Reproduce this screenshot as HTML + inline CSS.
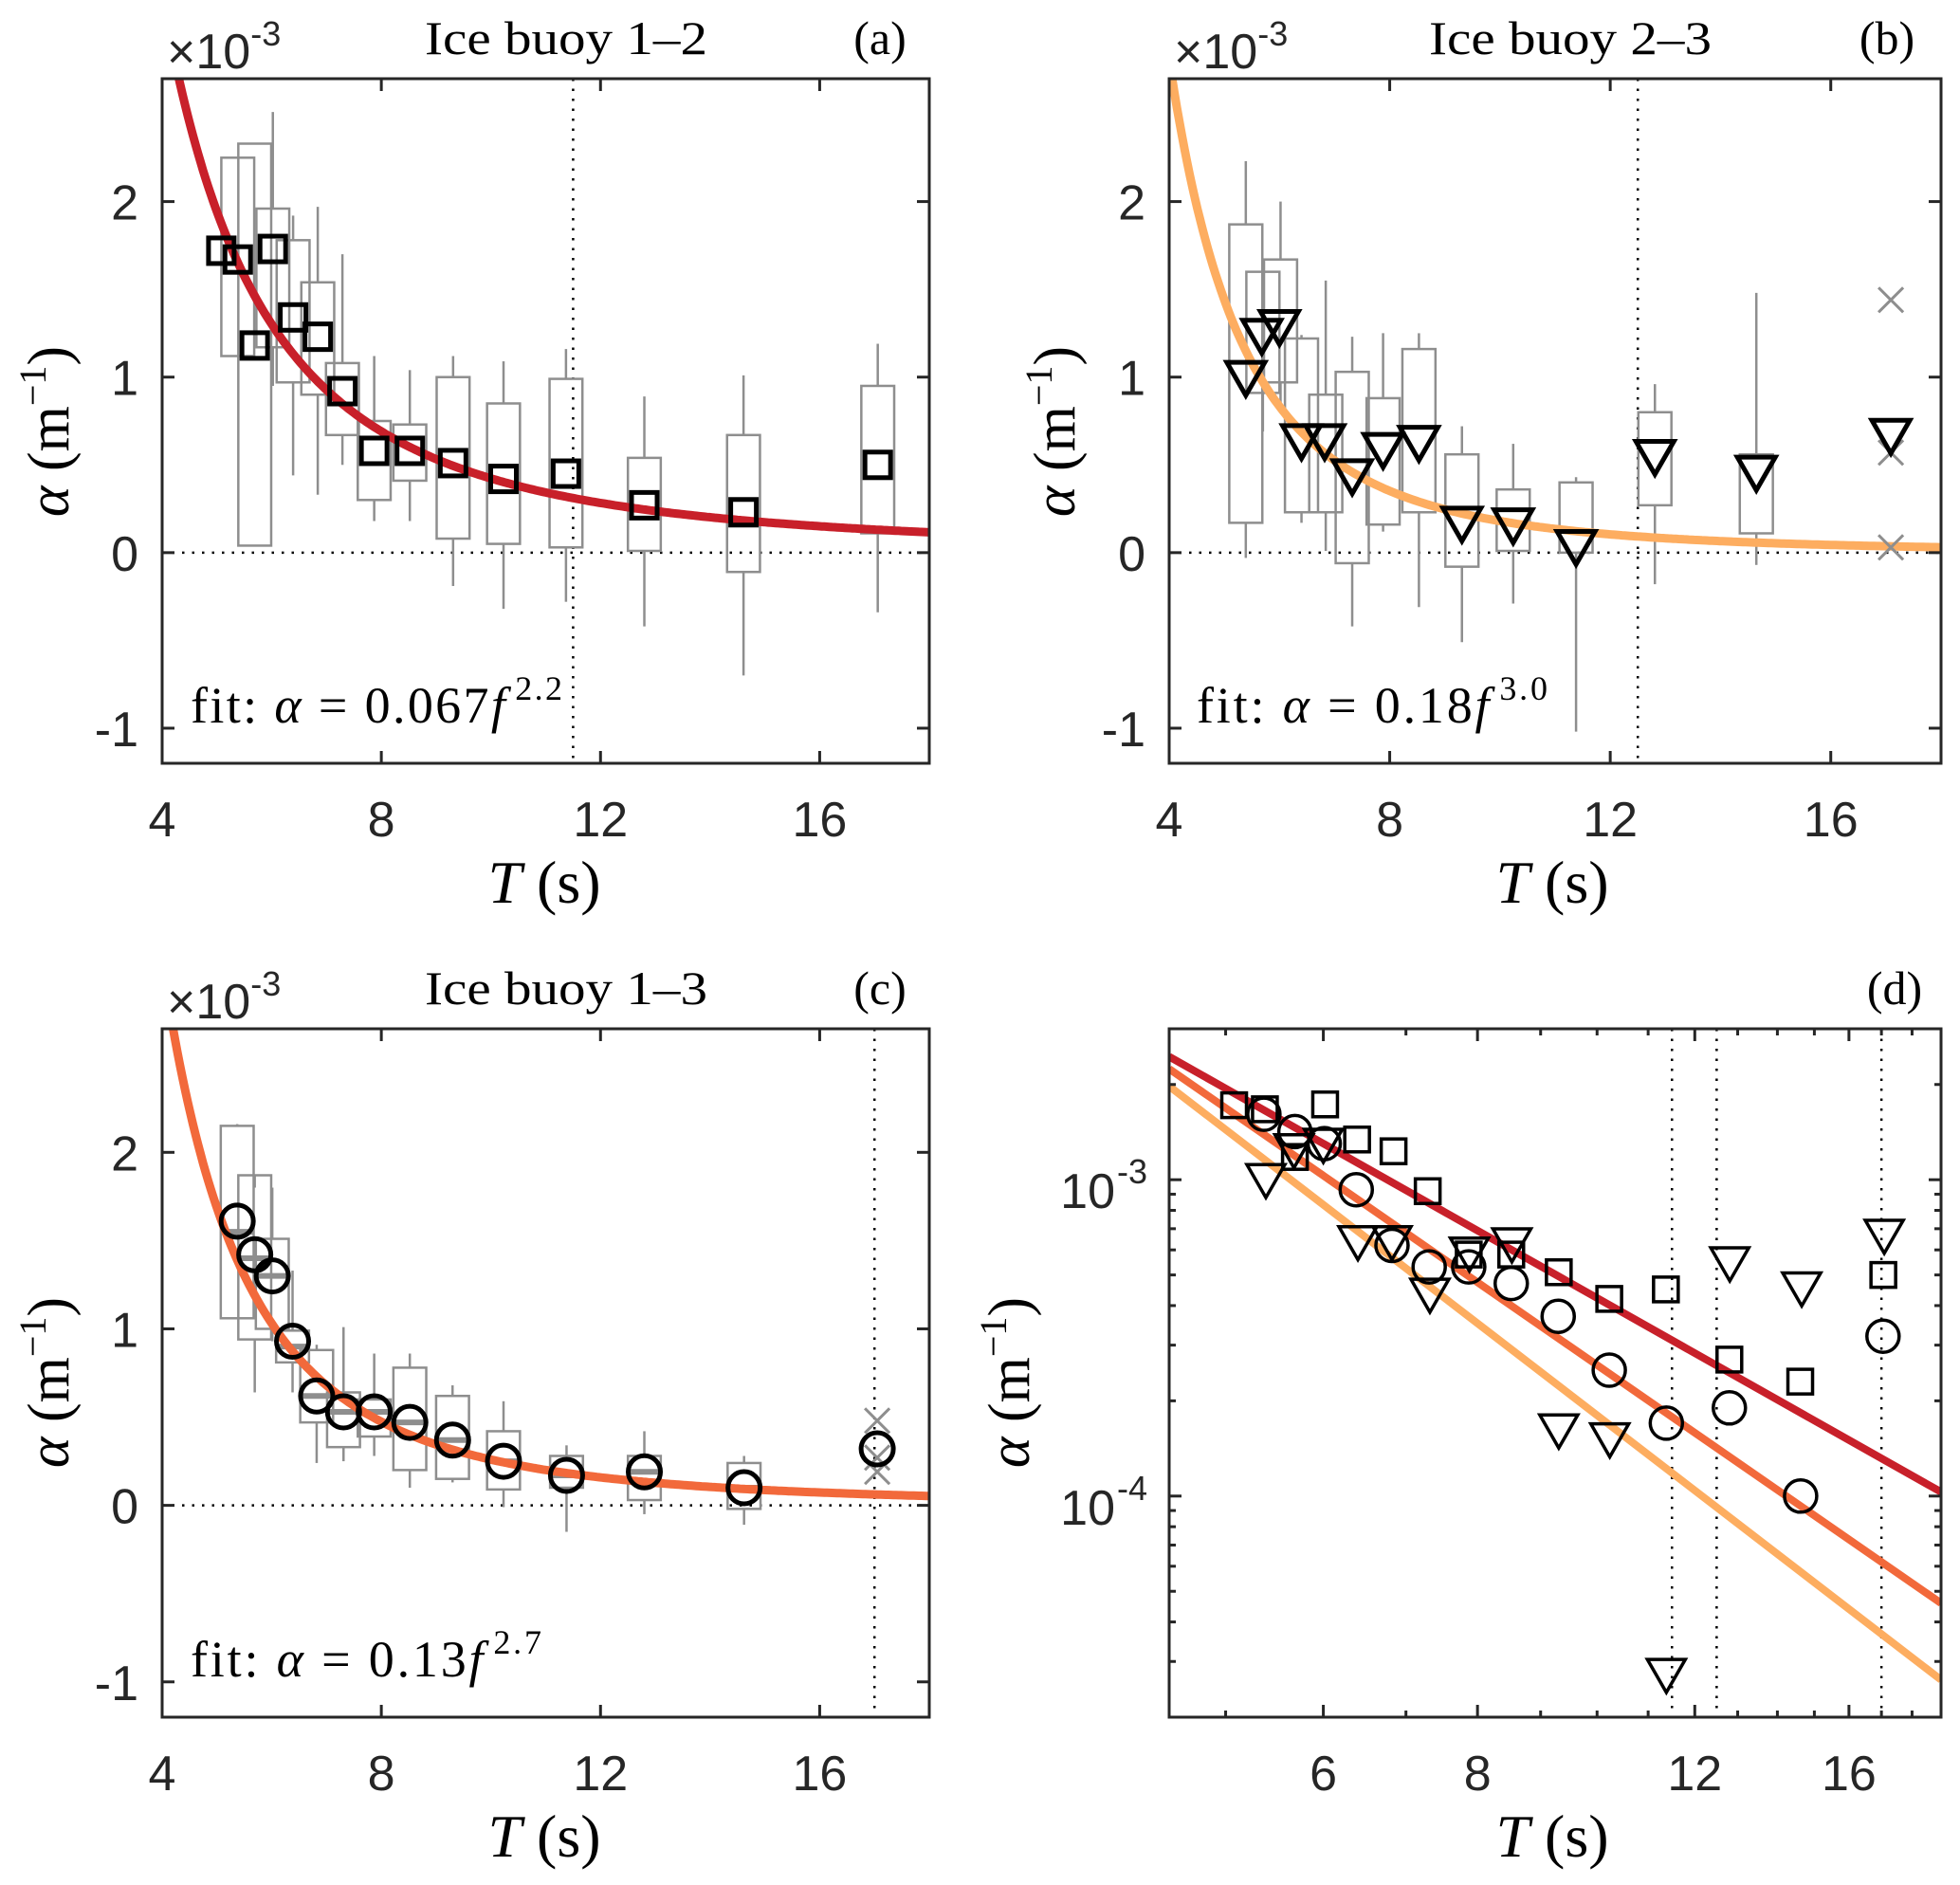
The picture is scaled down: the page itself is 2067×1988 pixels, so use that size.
<!DOCTYPE html>
<html><head><meta charset="utf-8"><style>
html,body{margin:0;padding:0;background:#fff;}
svg{display:block;}
.sans{font-family:"Liberation Sans",Arial,sans-serif;fill:#262626;}
.serif{font-family:"Liberation Serif","Times New Roman",serif;fill:#000;}
</style></head><body>
<svg id="fig" width="2067" height="1988" viewBox="0 0 2067 1988" xmlns="http://www.w3.org/2000/svg">
<defs>
<clipPath id="clipA"><rect x="171" y="83" width="809" height="722"/></clipPath>
<clipPath id="clipB"><rect x="1233" y="83" width="814" height="722"/></clipPath>
<clipPath id="clipC"><rect x="171" y="1085" width="809" height="726"/></clipPath>
<clipPath id="clipD"><rect x="1233" y="1085" width="814" height="726"/></clipPath>
</defs>
<g>
<text class="sans" x="176" y="72" font-size="52">×10<tspan dy="-24" font-size="36">-3</tspan></text>
<text class="serif" x="597" y="57" font-size="50" text-anchor="middle" textLength="298" lengthAdjust="spacingAndGlyphs">Ice buoy 1–2</text>
<text class="serif" x="928" y="57" font-size="50" text-anchor="middle">(a)</text>
<text class="serif" x="201" y="762" font-size="54" textLength="392" lengthAdjust="spacing">fit:  <tspan font-style="italic">α</tspan> = 0.067<tspan font-style="italic">f</tspan><tspan dx="8" dy="-24" font-size="36">2.2</tspan></text>
<text class="serif" x="574" y="952" font-size="64" text-anchor="middle"><tspan font-style="italic">T</tspan> (s)</text>
<text class="serif" transform="translate(72,455) rotate(-90)" font-size="62" text-anchor="middle"><tspan font-style="italic">α</tspan> (m<tspan dy="-24" font-size="40">−1</tspan><tspan dy="24">)</tspan></text>
</g>
<g>
<text class="sans" x="1238" y="72" font-size="52">×10<tspan dy="-24" font-size="36">-3</tspan></text>
<text class="serif" x="1656" y="57" font-size="50" text-anchor="middle" textLength="298" lengthAdjust="spacingAndGlyphs">Ice buoy 2–3</text>
<text class="serif" x="1990" y="57" font-size="50" text-anchor="middle">(b)</text>
<text class="serif" x="1262" y="762" font-size="54" textLength="370" lengthAdjust="spacing">fit:  <tspan font-style="italic">α</tspan> = 0.18<tspan font-style="italic">f</tspan><tspan dx="8" dy="-24" font-size="36">3.0</tspan></text>
<text class="serif" x="1637" y="952" font-size="64" text-anchor="middle"><tspan font-style="italic">T</tspan> (s)</text>
<text class="serif" transform="translate(1133,455) rotate(-90)" font-size="62" text-anchor="middle"><tspan font-style="italic">α</tspan> (m<tspan dy="-24" font-size="40">−1</tspan><tspan dy="24">)</tspan></text>
</g>
<g>
<text class="sans" x="176" y="1074" font-size="52">×10<tspan dy="-24" font-size="36">-3</tspan></text>
<text class="serif" x="597" y="1059" font-size="50" text-anchor="middle" textLength="298" lengthAdjust="spacingAndGlyphs">Ice buoy 1–3</text>
<text class="serif" x="928" y="1059" font-size="50" text-anchor="middle">(c)</text>
<text class="serif" x="201" y="1768" font-size="54" textLength="370" lengthAdjust="spacing">fit:  <tspan font-style="italic">α</tspan> = 0.13<tspan font-style="italic">f</tspan><tspan dx="8" dy="-24" font-size="36">2.7</tspan></text>
<text class="serif" x="574" y="1958" font-size="64" text-anchor="middle"><tspan font-style="italic">T</tspan> (s)</text>
<text class="serif" transform="translate(72,1458) rotate(-90)" font-size="62" text-anchor="middle"><tspan font-style="italic">α</tspan> (m<tspan dy="-24" font-size="40">−1</tspan><tspan dy="24">)</tspan></text>
</g>
<g>
<text class="serif" x="1998" y="1059" font-size="50" text-anchor="middle">(d)</text>
<text class="serif" x="1637" y="1958" font-size="64" text-anchor="middle"><tspan font-style="italic">T</tspan> (s)</text>
<text class="serif" transform="translate(1085,1458) rotate(-90)" font-size="62" text-anchor="middle"><tspan font-style="italic">α</tspan> (m<tspan dy="-24" font-size="40">−1</tspan><tspan dy="24">)</tspan></text>
</g>
</svg>
<script>
// ---------- data (alpha in units of 1e-3 m^-1) ----------
const fitA = [0.067, 0.18, 0.13];
const fitB = [2.2, 3.0, 2.7];
const cutoffT = [11.5, 12.5, 17.0];
const xTicks = [4, 8, 12, 16];
const yTicks = [-1, 0, 1, 2];
const dXTickLabels = [6, 8, 12, 16];

const aT    = [5.08,5.38,5.69,6.02,6.39,6.84,7.29,7.87,8.52,9.31,10.23,11.37,12.80,14.61,17.06];
const aMean = [1.72,1.67,1.18,1.73,1.34,1.23,0.92,0.58,0.58,0.51,0.42,0.45,0.27,0.23,0.50];
const aBoxT = [5.38,5.69,6.02,6.39,6.84,7.29,7.87,8.52,9.31,10.23,11.37,12.80,14.61,17.06];
const aQ1   = [1.12,0.04,1.17,0.97,0.90,0.67,0.30,0.41,0.08,0.05,0.03,0.01,-0.11,0.11];
const aQ3   = [2.25,2.33,1.96,1.78,1.54,1.08,0.75,0.73,1.00,0.85,0.99,0.54,0.67,0.95];
const aLo   = [1.12,0.04,0.95,0.44,0.33,0.50,0.18,0.18,-0.19,-0.32,-0.28,-0.42,-0.70,-0.34];
const aHi   = [2.25,2.33,2.51,1.92,1.97,1.70,1.12,1.04,1.12,1.09,1.16,0.89,1.01,1.19];

const bT    = [5.39,5.68,6.00,6.40,6.82,7.32,7.88,8.53,9.31,10.24,11.38,12.81,14.65,17.09];
const bMean = [0.99,1.23,1.28,0.63,0.63,0.43,0.58,0.62,0.16,0.15,0.027,0.54,0.45,0.66];
const bBoxT = [5.39,5.70,6.02,6.40,6.84,7.32,7.88,8.53,9.31,10.24,11.38,12.81,14.65];
const bQ1   = [0.17,0.91,0.97,0.23,0.23,-0.06,0.16,0.23,-0.08,0.01,0.00,0.27,0.11];
const bQ3   = [1.87,1.60,1.67,1.22,0.90,1.03,0.88,1.16,0.56,0.36,0.40,0.80,0.56];
const bLo   = [-0.03,0.69,0.81,0.17,0.01,-0.42,0.12,-0.31,-0.51,-0.29,-1.02,-0.18,-0.07];
const bHi   = [2.23,1.60,2.00,1.24,1.55,1.23,1.25,1.25,0.72,0.62,0.43,0.96,1.48];
const bOutT = [17.09,17.09,17.09];
const bOutV = [1.44,0.57,0.03];

const cT    = [5.37,5.69,6.01,6.38,6.82,7.31,7.87,8.52,9.30,10.23,11.38,12.80,14.62,17.05];
const cMean = [1.61,1.42,1.30,0.93,0.62,0.53,0.53,0.47,0.37,0.25,0.17,0.19,0.10,0.32];
const cBoxT = [5.37,5.69,6.01,6.38,6.82,7.31,7.87,8.52,9.30,10.23,11.38,12.80,14.62];
const cQ1   = [1.06,0.94,1.00,0.81,0.47,0.33,0.39,0.20,0.15,0.09,0.10,0.03,-0.02];
const cQ3   = [2.15,1.87,1.51,0.99,0.88,0.64,0.60,0.78,0.62,0.42,0.28,0.28,0.24];
const cLo   = [1.06,0.64,0.93,0.64,0.24,0.25,0.28,0.10,0.13,-0.01,-0.15,-0.05,-0.11];
const cHi   = [2.16,1.80,1.80,1.33,0.91,1.01,0.86,0.86,0.68,0.59,0.34,0.42,0.28];
const cMed  = [1.55,1.40,1.30,0.90,0.62,0.53,0.53,0.47,0.37,0.25,0.17,0.19,0.10];
const cOutT = [17.05,17.05,17.05];
const cOutV = [0.48,0.27,0.19];

// ---------- drawing ----------
const NS = 'http://www.w3.org/2000/svg';
const svg = document.getElementById('fig');
function mk(parent, tag, attrs, name) {
  const el = document.createElementNS(NS, tag);
  for (const k in attrs) el.setAttribute(k, attrs[k]);
  
  
  parent.appendChild(el);
  return el;
}
function linScale(d0, d1, r0, r1) { return v => r0 + (v - d0) / (d1 - d0) * (r1 - r0); }
function logScale(d0, d1, r0, r1) { return v => r0 + (Math.log10(v) - Math.log10(d0)) / (Math.log10(d1) - Math.log10(d0)) * (r1 - r0); }

const RED = '#c8202a', ORG = '#f2693b', LOR = '#fdad60', GRAY = '#8e8e8e', AX = '#262626';

function square(g, x, y, s, sw, name) {
  mk(g, 'rect', {x: x - s/2, y: y - s/2, width: s, height: s, fill: 'none', stroke: '#000', 'stroke-width': sw}, name);
}
function tri(g, x, y, w, sw, name) {
  const h = w * 0.87;
  mk(g, 'polygon', {points: `${x - w/2},${y - h/2} ${x + w/2},${y - h/2} ${x},${y + h/2}`, fill: 'none', stroke: '#000', 'stroke-width': sw}, name);
}
function circ(g, x, y, r, sw, name) {
  mk(g, 'circle', {cx: x, cy: y, r: r, fill: 'none', stroke: '#000', 'stroke-width': sw}, name);
}
function cross(g, x, y, s, name) {
  mk(g, 'path', {d: `M${x - s},${y - s}L${x + s},${y + s}M${x - s},${y + s}L${x + s},${y - s}`, stroke: GRAY, 'stroke-width': 3, fill: 'none'}, name);
}

function linearPanel(id, geo, clip, fitIdx, color, T, M, BT, Q1, Q3, LO, HI, MED, OT, OV, marker) {
  const g = mk(svg, 'g', {}, 'panel-' + id);
  const x = linScale(4, 18, geo.x0, geo.x1);
  const y = linScale(-1.2, 2.7, geo.y1, geo.y0);
  const pg = mk(g, 'g', {'clip-path': `url(#${clip})`}, 'panel-' + id + '-plot-area');
  mk(pg, 'line', {x1: geo.x0, x2: geo.x1, y1: y(0), y2: y(0), stroke: '#000', 'stroke-width': 2.5, 'stroke-dasharray': '2.5,8'}, 'zero-line');
  mk(pg, 'line', {x1: x(cutoffT[fitIdx]), x2: x(cutoffT[fitIdx]), y1: geo.y0, y2: geo.y1, stroke: '#000', 'stroke-width': 2.5, 'stroke-dasharray': '2.5,8'}, 'cutoff-line');
  const hw = 0.3;
  for (let i = 0; i < BT.length; i++) {
    const bg = mk(pg, 'g', {}, 'box-' + i);
    mk(bg, 'line', {x1: x(BT[i]), x2: x(BT[i]), y1: y(HI[i]), y2: y(Q3[i]), stroke: GRAY, 'stroke-width': 2.5}, 'whisker-high');
    mk(bg, 'line', {x1: x(BT[i]), x2: x(BT[i]), y1: y(Q1[i]), y2: y(LO[i]), stroke: GRAY, 'stroke-width': 2.5}, 'whisker-low');
    mk(bg, 'rect', {x: x(BT[i] - hw), y: y(Q3[i]), width: x(BT[i] + hw) - x(BT[i] - hw), height: y(Q1[i]) - y(Q3[i]), fill: 'none', stroke: GRAY, 'stroke-width': 2.5}, 'box');
    if (MED) mk(bg, 'line', {x1: x(BT[i] - hw), x2: x(BT[i] + hw), y1: y(MED[i]), y2: y(MED[i]), stroke: GRAY, 'stroke-width': 6}, 'median');
  }
  let d = '';
  for (let k = 0; k <= 300; k++) {
    const t = 4 + k * 14 / 300;
    const v = fitA[fitIdx] * Math.pow(1 / t, fitB[fitIdx]) * 1000;
    d += (k ? 'L' : 'M') + x(t).toFixed(1) + ',' + y(v).toFixed(1);
  }
  mk(pg, 'path', {d: d, fill: 'none', stroke: color, 'stroke-width': 9}, 'fit-curve');
  if (OT) for (let i = 0; i < OT.length; i++) cross(pg, x(OT[i]), y(OV[i]), 13, 'outlier');
  for (let i = 0; i < T.length; i++) {
    if (marker === 's') square(pg, x(T[i]), y(M[i]), 27, 5, 'mean-marker');
    if (marker === 't') tri(pg, x(T[i]), y(M[i]), 40, 5, 'mean-marker');
    if (marker === 'c') circ(pg, x(T[i]), y(M[i]), 17, 5, 'mean-marker');
  }
  mk(g, 'rect', {x: geo.x0, y: geo.y0, width: geo.x1 - geo.x0, height: geo.y1 - geo.y0, fill: 'none', stroke: AX, 'stroke-width': 3}, 'axes-frame');
  xTicks.forEach(t => {
    mk(g, 'line', {x1: x(t), x2: x(t), y1: geo.y1, y2: geo.y1 - 13, stroke: AX, 'stroke-width': 3}, 'x-tick');
    mk(g, 'line', {x1: x(t), x2: x(t), y1: geo.y0, y2: geo.y0 + 13, stroke: AX, 'stroke-width': 3}, 'x-tick-top');
    const tx = mk(g, 'text', {x: x(t), y: geo.y1 + 77, 'text-anchor': 'middle', 'font-size': 52, class: 'sans'}, 'x-tick-label');
    tx.textContent = t;
  });
  yTicks.forEach(t => {
    mk(g, 'line', {x1: geo.x0, x2: geo.x0 + 13, y1: y(t), y2: y(t), stroke: AX, 'stroke-width': 3}, 'y-tick');
    mk(g, 'line', {x1: geo.x1, x2: geo.x1 - 13, y1: y(t), y2: y(t), stroke: AX, 'stroke-width': 3}, 'y-tick-right');
    const tx = mk(g, 'text', {x: geo.x0 - 25, y: y(t) + 19, 'text-anchor': 'end', 'font-size': 52, class: 'sans'}, 'y-tick-label');
    tx.textContent = t;
  });
}

linearPanel('a', {x0:171,x1:980,y0:83,y1:805}, 'clipA', 0, RED, aT, aMean, aBoxT, aQ1, aQ3, aLo, aHi, null, null, null, 's');
linearPanel('b', {x0:1233,x1:2047,y0:83,y1:805}, 'clipB', 1, LOR, bT, bMean, bBoxT, bQ1, bQ3, bLo, bHi, null, bOutT, bOutV, 't');
linearPanel('c', {x0:171,x1:980,y0:1085,y1:1811}, 'clipC', 2, ORG, cT, cMean, cBoxT, cQ1, cQ3, cLo, cHi, cMed, cOutT, cOutV, 'c');

(function(){
  const geo = {x0:1233,x1:2047,y0:1085,y1:1811};
  const g = mk(svg, 'g', {}, 'panel-d');
  const x = logScale(4.5, 19, geo.x0, geo.x1);
  const y = logScale(2.0e-5, 3.0e-3, geo.y1, geo.y0);
  const pg = mk(g, 'g', {'clip-path': 'url(#clipD)'}, 'panel-d-plot-area');
  cutoffT.forEach(c => {
    mk(pg, 'line', {x1: x(c), x2: x(c), y1: geo.y0, y2: geo.y1, stroke: '#000', 'stroke-width': 2.5, 'stroke-dasharray': '2.5,8'}, 'cutoff-line');
  });
  const cols = [RED, LOR, ORG];
  [1, 2, 0].forEach(i => {
    const t0 = 4.5, t1 = 19;
    mk(pg, 'line', {x1: x(t0), y1: y(fitA[i] * Math.pow(t0, -fitB[i])), x2: x(t1), y2: y(fitA[i] * Math.pow(t1, -fitB[i])), stroke: cols[i], 'stroke-width': 8}, 'fit-line');
  });
  for (let i = 0; i < aT.length; i++) square(pg, x(aT[i]), y(aMean[i] * 1e-3), 26, 3.5, 'square-marker');
  for (let i = 0; i < cT.length; i++) circ(pg, x(cT[i]), y(cMean[i] * 1e-3), 17, 3.5, 'circle-marker');
  for (let i = 0; i < bT.length; i++) tri(pg, x(bT[i]), y(bMean[i] * 1e-3), 40, 3.5, 'triangle-marker');
  mk(g, 'rect', {x: geo.x0, y: geo.y0, width: geo.x1 - geo.x0, height: geo.y1 - geo.y0, fill: 'none', stroke: AX, 'stroke-width': 3}, 'axes-frame');
  for (let t = 5; t <= 19; t++) {
    const major = dXTickLabels.indexOf(t) >= 0;
    const L = major ? 13 : 7;
    mk(g, 'line', {x1: x(t), x2: x(t), y1: geo.y1, y2: geo.y1 - L, stroke: AX, 'stroke-width': 3}, 'x-tick');
    mk(g, 'line', {x1: x(t), x2: x(t), y1: geo.y0, y2: geo.y0 + L, stroke: AX, 'stroke-width': 3}, 'x-tick-top');
  }
  dXTickLabels.forEach(t => {
    const tx = mk(g, 'text', {x: x(t), y: geo.y1 + 77, 'text-anchor': 'middle', 'font-size': 52, class: 'sans'}, 'x-tick-label');
    tx.textContent = t;
  });
  for (let e = -5; e <= -3; e++) {
    for (let m = 1; m <= 9; m++) {
      const v = m * Math.pow(10, e);
      if (v < 2.0e-5 || v > 3.0e-3) continue;
      const L = m === 1 ? 13 : 7;
      mk(g, 'line', {x1: geo.x0, x2: geo.x0 + L, y1: y(v), y2: y(v), stroke: AX, 'stroke-width': 3}, 'y-tick');
      mk(g, 'line', {x1: geo.x1, x2: geo.x1 - L, y1: y(v), y2: y(v), stroke: AX, 'stroke-width': 3}, 'y-tick-right');
    }
  }
  [-3, -4].forEach(e => {
    const tx = mk(g, 'text', {x: 1176, y: y(Math.pow(10, e)) + 30, 'text-anchor': 'end', 'font-size': 52, class: 'sans'}, 'y-tick-label');
    tx.textContent = '10';
    const sup = mk(g, 'text', {x: 1178, y: y(Math.pow(10, e)) + 4, 'text-anchor': 'start', 'font-size': 36, class: 'sans'}, 'y-tick-exponent');
    sup.textContent = String(e);
  });
})();
</script>
</body></html>
